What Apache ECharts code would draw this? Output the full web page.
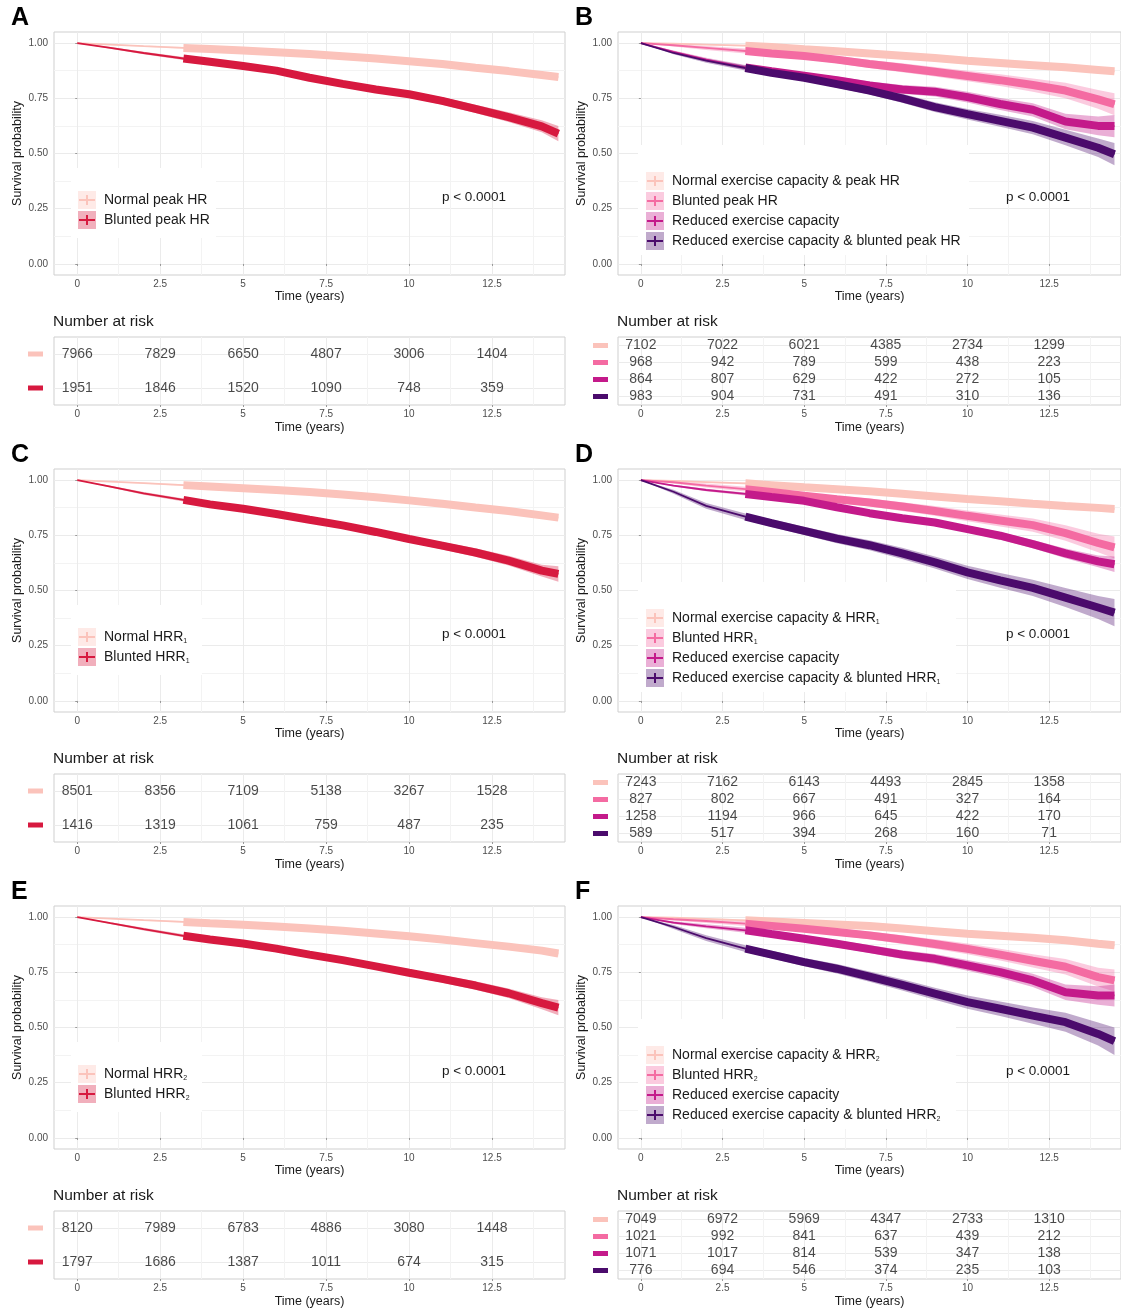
<!DOCTYPE html>
<html><head><meta charset="utf-8">
<script src="https://cdn.jsdelivr.net/npm/echarts@6/dist/echarts.min.js"></script>
<style>html,body{margin:0;padding:0;background:#fff;} #c{width:1121px;height:1311px;}</style>
</head><body><div id="c"></div><script>
const FONT = '"Liberation Sans", Arial, Helvetica, sans-serif';

// ---------- data ----------
const times = [0, 1, 2, 3.2, 4, 5, 6, 7, 8, 9, 10, 11, 12, 13, 14, 14.5];
const censorStart = 3.2;
const xTicks = [0, 2.5, 5, 7.5, 10, 12.5];
const xMinorTicks = [1.25, 3.75, 6.25, 8.75, 11.25, 13.75];
const yTicks = [0, 0.25, 0.5, 0.75, 1];
const yMinorTicks = [0.125, 0.375, 0.625, 0.875];
const riskTimes = [0, 2.5, 5, 7.5, 10, 12.5];

// confidence-interval half widths (read from ribbon thickness)
const ciTiny = [0, .002, .003, .004, .004, .005, .005, .006, .006, .007, .008, .009, .010, .011, .013, .015];
const ciMid = [0, .004, .006, .007, .008, .009, .010, .011, .012, .014, .015, .017, .019, .022, .027, .035];
const ciWide = [0, .006, .009, .011, .012, .014, .016, .018, .020, .022, .024, .027, .030, .035, .042, .050];
const ciWidest = [0, .009, .013, .015, .017, .019, .021, .023, .025, .027, .030, .033, .037, .043, .052, .062];

// Panel A
const survA_normal = [1, 0.993, 0.986, 0.978, 0.973, 0.966, 0.958, 0.95, 0.94, 0.93, 0.918, 0.905, 0.888, 0.873, 0.855, 0.846];
const survA_blunted = [1, 0.978, 0.955, 0.93, 0.915, 0.896, 0.875, 0.843, 0.815, 0.79, 0.768, 0.738, 0.702, 0.665, 0.623, 0.59];
const riskA_normal = [7966, 7829, 6650, 4807, 3006, 1404];
const riskA_blunted = [1951, 1846, 1520, 1090, 748, 359];
// Panel B
const survB_normal = [1, 0.997, 0.993, 0.988, 0.982, 0.972, 0.963, 0.953, 0.943, 0.932, 0.92, 0.91, 0.9, 0.89, 0.878, 0.872];
const survB_blunted = [1, 0.99, 0.978, 0.964, 0.953, 0.941, 0.925, 0.905, 0.888, 0.87, 0.851, 0.832, 0.81, 0.785, 0.745, 0.723];
const survB_reduced = [1, 0.96, 0.925, 0.89, 0.872, 0.852, 0.832, 0.808, 0.79, 0.78, 0.755, 0.724, 0.698, 0.645, 0.625, 0.624];
const survB_both = [1, 0.955, 0.92, 0.887, 0.865, 0.843, 0.814, 0.785, 0.75, 0.71, 0.678, 0.648, 0.617, 0.572, 0.526, 0.497];
const riskB_normal = [7102, 7022, 6021, 4385, 2734, 1299];
const riskB_blunted = [968, 942, 789, 599, 438, 223];
const riskB_reduced = [864, 807, 629, 422, 272, 105];
const riskB_both = [983, 904, 731, 491, 310, 136];
// Panel C
const survC_normal = [1, 0.993, 0.986, 0.977, 0.971, 0.963, 0.955, 0.946, 0.935, 0.922, 0.908, 0.893, 0.876, 0.86, 0.84, 0.83];
const survC_blunted = [1, 0.97, 0.94, 0.91, 0.89, 0.87, 0.846, 0.82, 0.795, 0.765, 0.733, 0.703, 0.672, 0.635, 0.59, 0.575];
const riskC_normal = [8501, 8356, 7109, 5138, 3267, 1528];
const riskC_blunted = [1416, 1319, 1061, 759, 487, 235];
// Panel D
const survD_normal = [1, 0.996, 0.991, 0.985, 0.977, 0.967, 0.958, 0.949, 0.938, 0.926, 0.914, 0.904, 0.893, 0.883, 0.874, 0.869];
const survD_blunted = [1, 0.99, 0.975, 0.959, 0.946, 0.929, 0.913, 0.898, 0.88, 0.86, 0.838, 0.817, 0.796, 0.76, 0.715, 0.695];
const survD_reduced = [1, 0.975, 0.955, 0.937, 0.923, 0.906, 0.877, 0.85, 0.827, 0.808, 0.778, 0.748, 0.71, 0.668, 0.632, 0.619];
const survD_both = [1, 0.947, 0.883, 0.834, 0.805, 0.77, 0.735, 0.705, 0.668, 0.627, 0.582, 0.546, 0.512, 0.468, 0.423, 0.4];
const riskD_normal = [7243, 7162, 6143, 4493, 2845, 1358];
const riskD_blunted = [827, 802, 667, 491, 327, 164];
const riskD_reduced = [1258, 1194, 966, 645, 422, 170];
const riskD_both = [589, 517, 394, 268, 160, 71];
// Panel E
const survE_normal = [1, 0.993, 0.986, 0.978, 0.972, 0.965, 0.957, 0.948, 0.938, 0.926, 0.913, 0.898, 0.882, 0.866, 0.848, 0.835];
const survE_blunted = [1, 0.972, 0.945, 0.915, 0.898, 0.88, 0.857, 0.83, 0.805, 0.777, 0.748, 0.72, 0.69, 0.655, 0.61, 0.59];
const riskE_normal = [8120, 7989, 6783, 4886, 3080, 1448];
const riskE_blunted = [1797, 1686, 1387, 1011, 674, 315];
// Panel F
const survF_normal = [1, 0.997, 0.992, 0.985, 0.98, 0.973, 0.966, 0.959, 0.948, 0.936, 0.924, 0.915, 0.906, 0.895, 0.879, 0.872];
const survF_blunted = [1, 0.99, 0.982, 0.97, 0.96, 0.947, 0.932, 0.917, 0.898, 0.878, 0.856, 0.83, 0.802, 0.775, 0.728, 0.713];
const survF_reduced = [1, 0.975, 0.958, 0.94, 0.923, 0.902, 0.879, 0.855, 0.83, 0.811, 0.781, 0.751, 0.713, 0.66, 0.645, 0.645];
const survF_both = [1, 0.955, 0.905, 0.857, 0.83, 0.796, 0.766, 0.73, 0.693, 0.653, 0.615, 0.585, 0.554, 0.524, 0.471, 0.438];
const riskF_normal = [7049, 6972, 5969, 4347, 2733, 1310];
const riskF_blunted = [1021, 992, 841, 637, 439, 212];
const riskF_reduced = [1071, 1017, 814, 539, 347, 138];
const riskF_both = [776, 694, 546, 374, 235, 103];

const pText = 'p < 0.0001';

// ---------- styles ----------
const cLight = '#FBC3BB', cRed = '#D7193F', cPink = '#F46BA2', cMag = '#C41A8A', cPurple = '#4B0B6C';
function rgba(hex, a) {
  const n = parseInt(hex.slice(1), 16);
  return `rgba(${(n >> 16) & 255},${(n >> 8) & 255},${n & 255},${a})`;
}

const panels = [
  { letter: 'A', col: 0, row: 0, legendW: 145, groups: [
    { label: 'Normal peak HR', color: cLight, surv: survA_normal, ci: ciTiny, risk: riskA_normal },
    { label: 'Blunted peak HR', color: cRed, surv: survA_blunted, ci: ciMid, risk: riskA_blunted }] },
  { letter: 'B', col: 1, row: 0, legendW: 331, groups: [
    { label: 'Normal exercise capacity & peak HR', color: cLight, surv: survB_normal, ci: ciTiny, risk: riskB_normal },
    { label: 'Blunted peak HR', color: cPink, surv: survB_blunted, ci: ciWide, risk: riskB_blunted },
    { label: 'Reduced exercise capacity', color: cMag, surv: survB_reduced, ci: ciWide, risk: riskB_reduced },
    { label: 'Reduced exercise capacity & blunted peak HR', color: cPurple, surv: survB_both, ci: ciWide, risk: riskB_both }] },
  { letter: 'C', col: 0, row: 1, legendW: 131, groups: [
    { label: 'Normal HRR{s|1}', color: cLight, surv: survC_normal, ci: ciTiny, risk: riskC_normal },
    { label: 'Blunted HRR{s|1}', color: cRed, surv: survC_blunted, ci: ciMid, risk: riskC_blunted }] },
  { letter: 'D', col: 1, row: 1, legendW: 318, groups: [
    { label: 'Normal exercise capacity & HRR{s|1}', color: cLight, surv: survD_normal, ci: ciTiny, risk: riskD_normal },
    { label: 'Blunted HRR{s|1}', color: cPink, surv: survD_blunted, ci: ciWide, risk: riskD_blunted },
    { label: 'Reduced exercise capacity', color: cMag, surv: survD_reduced, ci: ciMid, risk: riskD_reduced },
    { label: 'Reduced exercise capacity & blunted HRR{s|1}', color: cPurple, surv: survD_both, ci: ciWidest, risk: riskD_both }] },
  { letter: 'E', col: 0, row: 2, legendW: 131, groups: [
    { label: 'Normal HRR{s|2}', color: cLight, surv: survE_normal, ci: ciTiny, risk: riskE_normal },
    { label: 'Blunted HRR{s|2}', color: cRed, surv: survE_blunted, ci: ciMid, risk: riskE_blunted }] },
  { letter: 'F', col: 1, row: 2, legendW: 318, groups: [
    { label: 'Normal exercise capacity & HRR{s|2}', color: cLight, surv: survF_normal, ci: ciTiny, risk: riskF_normal },
    { label: 'Blunted HRR{s|2}', color: cPink, surv: survF_blunted, ci: ciWide, risk: riskF_blunted },
    { label: 'Reduced exercise capacity', color: cMag, surv: survF_reduced, ci: ciWide, risk: riskF_reduced },
    { label: 'Reduced exercise capacity & blunted HRR{s|2}', color: cPurple, surv: survF_both, ci: ciWidest, risk: riskF_both }] }
];

// ---------- layout ----------
const xMin = -0.7, xMax = 14.7;
const colLeft = [54, 618], colDX = 564, rowDY = 437;
const gridW = 511;
const plotTop = 32, plotH = 243, tabTop = 337, tabH = 68;
const GRID_C = '#ebebeb', MINOR_C = '#f3f3f3', FRAME_C = '#cfcfcf', TICK_C = '#4d4d4d', TXT = '#1a1a1a';

const grid = [], xAxis = [], yAxis = [], series = [], graphic = [];

function xAxesFor(gi, nameGap, labelMargin) {
  const main = {
    gridIndex: gi, type: 'value', min: xMin, max: xMax, position: 'bottom',
    axisLine: { show: false },
    axisTick: { show: true, customValues: xTicks, length: 2, lineStyle: { color: '#999' } },
    axisLabel: { customValues: xTicks, formatter: v => String(v), fontSize: 10, color: TICK_C, margin: labelMargin, fontFamily: FONT },
    splitLine: { show: true, lineStyle: { color: GRID_C, width: 1 } },
    name: 'Time (years)', nameLocation: 'middle', nameGap: nameGap,
    nameTextStyle: { fontSize: 12.5, color: TXT, fontFamily: FONT }
  };
  const minor = {
    gridIndex: gi, type: 'value', min: xMin, max: xMax, position: 'top',
    axisLine: { show: false }, axisTick: { show: false, customValues: xMinorTicks },
    axisLabel: { show: false, customValues: xMinorTicks },
    splitLine: { show: true, lineStyle: { color: MINOR_C, width: 1 } }
  };
  const i0 = xAxis.length; xAxis.push(main, minor); return i0;
}

// confidence ribbon drawn as one polygon through the axis scales
function ribbonRenderer(lo, hi, fill) {
  return function (params, api) {
    if (params.dataIndex !== 0) return null;
    const pts = [];
    for (let i = 0; i < times.length; i++) pts.push(api.coord([times[i], hi[i]]));
    for (let i = times.length - 1; i >= 0; i--) pts.push(api.coord([times[i], lo[i]]));
    return { type: 'polygon', shape: { points: pts }, style: { fill: fill }, silent: true };
  };
}

panels.forEach((p, pi) => {
  const left = colLeft[p.col];
  const oy = p.row * rowDY;
  const ox = p.col * colDX;
  const n = p.groups.length;
  const gPlot = grid.length;
  grid.push({ left: left, top: plotTop + oy, width: gridW, height: plotH, show: true, borderColor: FRAME_C, borderWidth: 1, backgroundColor: '#fff' });
  const gTab = grid.length;
  grid.push({ left: left, top: tabTop + oy, width: gridW, height: tabH, show: true, borderColor: FRAME_C, borderWidth: 1, backgroundColor: '#fff' });

  const xPlot = xAxesFor(gPlot, 15, 4);
  const yPlot = yAxis.length;
  yAxis.push({
    gridIndex: gPlot, type: 'value', min: -0.05, max: 1.05, position: 'left',
    axisLine: { show: false },
    axisTick: { show: true, customValues: yTicks, length: 2, lineStyle: { color: '#999' } },
    axisLabel: { customValues: yTicks, formatter: v => v.toFixed(2), fontSize: 10, color: TICK_C, margin: 6, fontFamily: FONT },
    splitLine: { show: true, lineStyle: { color: GRID_C, width: 1 } },
    name: 'Survival probability', nameLocation: 'middle', nameGap: 30,
    nameTextStyle: { fontSize: 12.5, color: TXT, fontFamily: FONT }
  }, {
    gridIndex: gPlot, type: 'value', min: -0.05, max: 1.05, position: 'right',
    axisLine: { show: false }, axisTick: { show: false, customValues: yMinorTicks },
    axisLabel: { show: false, customValues: yMinorTicks },
    splitLine: { show: true, lineStyle: { color: MINOR_C, width: 1 } }
  });

  const xTab = xAxesFor(gTab, 16, 4);
  const yTab = yAxis.length;
  const rows = p.groups.map((g, k) => k + 1);
  const rich = {};
  p.groups.forEach((g, k) => { rich['s' + k] = { width: 15, height: 5, backgroundColor: g.color, lineHeight: 5 }; });
  yAxis.push({
    gridIndex: gTab, type: 'value', min: 0.5, max: n + 0.5, inverse: true, position: 'left',
    axisLine: { show: false },
    axisTick: { show: false, customValues: rows },
    axisLabel: { customValues: rows, formatter: v => '{s' + (Math.round(v) - 1) + '| }', rich: rich, margin: n > 2 ? 10 : 11 },
    splitLine: { show: true, lineStyle: { color: GRID_C, width: 1 } }
  });

  // confidence ribbons
  p.groups.forEach((g, k) => {
    const lo = g.surv.map((v, i) => v - g.ci[i]);
    const hi = g.surv.map((v, i) => v + g.ci[i]);
    series.push({
      type: 'custom', xAxisIndex: xPlot, yAxisIndex: yPlot, z: 2, silent: true,
      renderItem: ribbonRenderer(lo, hi, rgba(g.color, 0.35)),
      data: times.map((t, i) => [t, lo[i], hi[i]]),
      encode: { x: 0, y: [1, 2] }
    });
  });
  // curves + risk table
  p.groups.forEach((g, k) => {
    series.push({
      name: p.letter + ': ' + g.label.replace(/\{s\|(\d)\}/, '$1'),
      type: 'line', xAxisIndex: xPlot, yAxisIndex: yPlot, z: 3, symbol: 'none', silent: true,
      lineStyle: { width: 1.8, color: g.color }, itemStyle: { color: g.color },
      data: times.map((t, i) => [t, g.surv[i]])
    }, {
      type: 'line', xAxisIndex: xPlot, yAxisIndex: yPlot, z: 4, symbol: 'none', silent: true,
      lineStyle: { width: 8, color: g.color, cap: 'butt' },
      data: times.map((t, i) => [t, g.surv[i]]).filter(d => d[0] >= censorStart)
    });
    series.push({
      type: 'scatter', xAxisIndex: xTab, yAxisIndex: yTab, z: 5, silent: true,
      symbolSize: 1, itemStyle: { color: 'rgba(0,0,0,0)' },
      label: { show: true, position: 'inside', formatter: d => String(d.value[2]), fontSize: 14, color: TXT, fontFamily: FONT },
      data: riskTimes.map((t, j) => [t, k + 1, g.risk[j]])
    });
  });

  // text annotations
  graphic.push({ type: 'text', x: ox + 11, y: oy + 18, z: 100,
    style: { text: p.letter, font: 'bold 25px ' + FONT, fill: '#000', align: 'left', verticalAlign: 'middle' } });
  graphic.push({ type: 'text', x: left - 1, y: oy + 322, z: 100,
    style: { text: 'Number at risk', font: '15.5px ' + FONT, fill: TXT, align: 'left', verticalAlign: 'middle' } });
  graphic.push({ type: 'text', x: ox + 474, y: oy + 197, z: 100,
    style: { text: pText, font: '13.5px ' + FONT, fill: TXT, align: 'center', verticalAlign: 'middle' } });

  // legend (ggplot style, inside panel)
  const four = n > 2;
  const boxX = ox + (four ? 74 : 71), boxY = oy + (four ? 145 : 168), boxH = four ? 110 : 70;
  const keyX = ox + (four ? 82 : 78), txtX = ox + (four ? 108 : 104), row0 = oy + (four ? 181 : 200);
  graphic.push({ type: 'rect', z: 90, shape: { x: boxX, y: boxY, width: p.legendW, height: boxH }, style: { fill: '#fff' } });
  p.groups.forEach((g, k) => {
    const cy = row0 + 20 * k;
    graphic.push({ type: 'rect', z: 91, shape: { x: keyX, y: cy - 9, width: 18, height: 18 }, style: { fill: rgba(g.color, 0.35) } });
    graphic.push({ type: 'line', z: 92, shape: { x1: keyX + 1, y1: cy, x2: keyX + 17, y2: cy }, style: { stroke: g.color, lineWidth: 2 } });
    graphic.push({ type: 'line', z: 92, shape: { x1: keyX + 9, y1: cy - 5, x2: keyX + 9, y2: cy + 5 }, style: { stroke: g.color, lineWidth: 2 } });
    graphic.push({ type: 'text', z: 93, x: txtX, y: cy,
      style: { text: g.label, fontSize: 14, fontFamily: FONT, fill: TXT, align: 'left', verticalAlign: 'middle',
        rich: { s: { fontSize: 7, fontFamily: FONT, fill: TXT, verticalAlign: 'bottom', padding: [9, 0, 0, 0] } } } });
  });
});

const chart = echarts.init(document.getElementById('c'), null, { renderer: 'canvas' });
chart.setOption({
  animation: false,
  backgroundColor: '#fff',
  textStyle: { fontFamily: FONT },
  grid, xAxis, yAxis, series, graphic
});
</script></body></html>
